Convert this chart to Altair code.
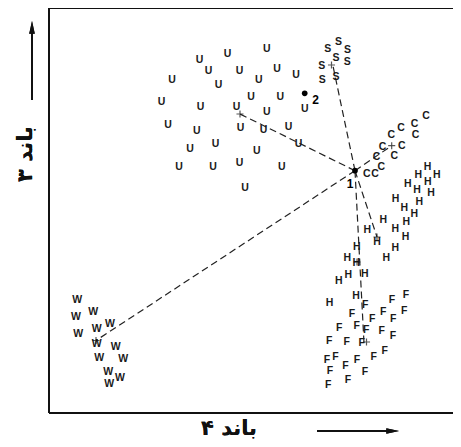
import altair as alt
import pandas as pd

# ---- class samples: band 4 (horizontal) and band 3 (vertical), arbitrary units ----
u_b4 = [217.7, 178.5, 150.5, 159.5, 190.5, 228, 247, 123, 169.5, 209.7, 202, 231.3, 112.5, 151.5, 187.5, 217.7,
        255.7, 119, 147.7, 191.5, 214.5, 239.5, 166.5, 141, 207.8, 249.5, 130, 164, 190.5, 232.7, 196]
u_b3 = [364, 359, 353.5, 342.5, 342.5, 344, 338, 333, 328.5, 333, 316.3, 315.7, 311.5, 306.5, 306, 301.3,
        303.7, 288, 282.2, 285, 283.5, 286, 269.5, 263.7, 262.5, 269.3, 246.3, 246.2, 250.5, 246.3, 224.7]

s_b4 = [289.5, 278.7, 298.5, 287, 298.2, 272.8, 273.3, 287]
s_b3 = [371, 364.5, 362.7, 355.5, 350.7, 347.3, 333, 336.3]

c_b4 = [377, 365.5, 366.5, 352, 342.2, 333.5, 352.7, 345.2, 327.5, 332.3, 317.7, 326]
c_b3 = [296.7, 288.7, 278, 284.7, 278, 266, 266.8, 256.7, 256, 246.3, 239, 239.5]

h_b4 = [378.5, 369.3, 387.7, 378.7, 358.8, 368, 382, 346.5, 370.2, 355.2, 365.2, 334.3, 357.3, 318.3, 346.3,
        356.5, 328, 346.3, 337.3,
        307.7, 298.3, 307.3, 315.8, 299.3, 289.8, 307, 280.5]
h_b3 = [246.3, 238.5, 238, 230.7, 229.3, 222.7, 219.7, 214.3, 211.3, 204.7, 199.2, 192.7, 191, 183, 184.2,
        176, 171, 164.7, 154.7,
        165.7, 155.5, 149.7, 138.7, 138.2, 132, 117, 109.7]

f_b4 = [357, 343, 316.3, 355.2, 303, 334.3, 323.2, 344.3, 290.2, 307.7, 317.3, 332.7, 344, 280.2, 297.7, 312.7,
        335.7, 324.8, 278, 286.5, 308, 296.5, 316, 281, 299, 279.3]
f_b3 = [118, 112.7, 107.7, 102.3, 99.2, 101.3, 94.2, 93.8, 84.7, 86.7, 83, 81.7, 76.7, 72.2, 71, 70.2,
        62.5, 56, 53, 56, 53, 47, 41.3, 42.2, 33.2, 28]

w_b4 = [28.3, 27, 44.3, 29.3, 47.7, 61, 47.7, 66.7, 50.3, 74.3, 59.3, 71, 60.3]
w_b3 = [113, 96.3, 101.3, 78.7, 83.7, 88.7, 69, 66.3, 55.3, 53.7, 41.3, 34.7, 29]

# class means (crosses)
mean_cls = ["U", "S", "C", "H", "H2", "F", "W"]
mean_b4 = [191, 282.5, 342.7, 328, 308, 317.5, 47]
mean_b3 = [299, 348, 267.3, 176, 151, 71, 72.5]

# unknown pixels 1 and 2, and where their numbers sit
pt_lab = ["1", "2"]
pt_b4 = [306, 255.7]
pt_b3 = [242.3, 319.7]
lab_b4 = [301, 266.5]
lab_b3 = [229.5, 313]

# dashed links from pixel 1 to class means
link_cls = ["U", "S", "C", "H", "F", "W"]
link_b4 = [191, 284, 342.7, 328, 315, 47]
link_b3 = [299, 347, 267.3, 176, 70, 72.5]

x_title = "باند ۴"
y_title = "باند ۳"

# ---------------- build tables ----------------
rows = []
for letter, xs_, ys_ in [("U", u_b4, u_b3), ("S", s_b4, s_b3), ("C", c_b4, c_b3),
                         ("H", h_b4, h_b3), ("F", f_b4, f_b3), ("W", w_b4, w_b3)]:
    for a, b in zip(xs_, ys_):
        rows.append({"b4": a, "b3": b, "cls": letter})
samples = pd.DataFrame(rows)
means = pd.DataFrame({"cls": mean_cls, "b4": mean_b4, "b3": mean_b3})
pts = pd.DataFrame({"lab": pt_lab, "b4": pt_b4, "b3": pt_b3, "lx": lab_b4, "ly": lab_b3})
links = pd.DataFrame({"cls": link_cls, "b4": link_b4, "b3": link_b3,
                      "x0": [pt_b4[0]] * len(link_cls), "y0": [pt_b3[0]] * len(link_cls)})

W, H = 404, 405
xs = alt.Scale(domain=[0, W], nice=False, zero=False)
ys = alt.Scale(domain=[0, H], nice=False, zero=False)
X = lambda f: alt.X(f, type="quantitative", scale=xs, axis=None)
Y = lambda f: alt.Y(f, type="quantitative", scale=ys, axis=None)

letters = alt.Chart(samples).mark_text(font="Liberation Sans", fontSize=10.5, fontWeight="bold",
                                       color="#1a1a1a").encode(x=X("b4"), y=Y("b3"), text="cls:N")

dashed = alt.Chart(links).mark_rule(strokeDash=[7, 4], strokeWidth=1.2, color="#222").encode(
    x=X("x0"), y=Y("y0"), x2="b4:Q", y2="b3:Q")

crosses = alt.Chart(means).mark_point(shape="M-1,0L1,0M0,-1L0,1", size=50, strokeWidth=1.2,
                                      color="#111", filled=False).encode(x=X("b4"), y=Y("b3"))

dots = alt.Chart(pts).mark_point(shape="circle", size=32, filled=True, color="black",
                                 opacity=1).encode(x=X("b4"), y=Y("b3"))
dot_labels = alt.Chart(pts).mark_text(font="Liberation Sans", fontSize=12, fontWeight="bold",
                                      color="black").encode(
    x=X("lx"), y=Y("ly"), text="lab:N")

# frame (left, top, bottom)
frame_left = alt.Chart(pts).mark_rule(strokeWidth=1.8, color="#111").encode(
    x=alt.value(0), y=alt.value(0), y2=alt.value(H))
frame_top = alt.Chart(pts).mark_rule(strokeWidth=1.8, color="#111").encode(
    x=alt.value(0), x2=alt.value(W), y=alt.value(0))
frame_bottom = alt.Chart(pts).mark_rule(strokeWidth=1.8, color="#111").encode(
    x=alt.value(0), x2=alt.value(W), y=alt.value(H))

# titles and arrows
ytitle = alt.Chart(pts).mark_text(font="DejaVu Sans", fontSize=21, fontWeight="bold", angle=270,
                                  color="#111").encode(
    x=alt.value(-23), y=alt.value(146), text=alt.value(y_title))
xtitle = alt.Chart(pts).mark_text(font="DejaVu Sans", fontSize=21, fontWeight="bold",
                                  color="#111").encode(
    x=alt.value(180), y=alt.value(421), text=alt.value(x_title))
yarrow = alt.Chart(pts).mark_rule(strokeWidth=2, color="#111").encode(
    x=alt.value(-17), y=alt.value(22), y2=alt.value(92))
yhead = alt.Chart(pts).mark_point(shape="M0,-1L0.4,0.8L-0.4,0.8Z", size=200, filled=True,
                                  color="#111", opacity=1).encode(x=alt.value(-17), y=alt.value(20))
xarrow = alt.Chart(pts).mark_rule(strokeWidth=2, color="#111").encode(
    x=alt.value(268), x2=alt.value(340), y=alt.value(423))
xhead = alt.Chart(pts).mark_point(shape="M1,0L-0.8,0.4L-0.8,-0.4Z", size=200, filled=True,
                                  color="#111", opacity=1).encode(x=alt.value(343), y=alt.value(423))

chart = alt.layer(frame_left, frame_top, frame_bottom, dashed, letters, crosses, dots, dot_labels,
                  ytitle, xtitle, yarrow, yhead, xarrow, xhead).properties(
    width=W, height=H,
    autosize=alt.AutoSizeParams(type="none"),
    padding={"left": 41, "top": 0, "right": 0, "bottom": 26},
    background="white",
).configure_view(stroke=None)

chart.save("out.html", embed_options={"renderer": "svg", "actions": False})
